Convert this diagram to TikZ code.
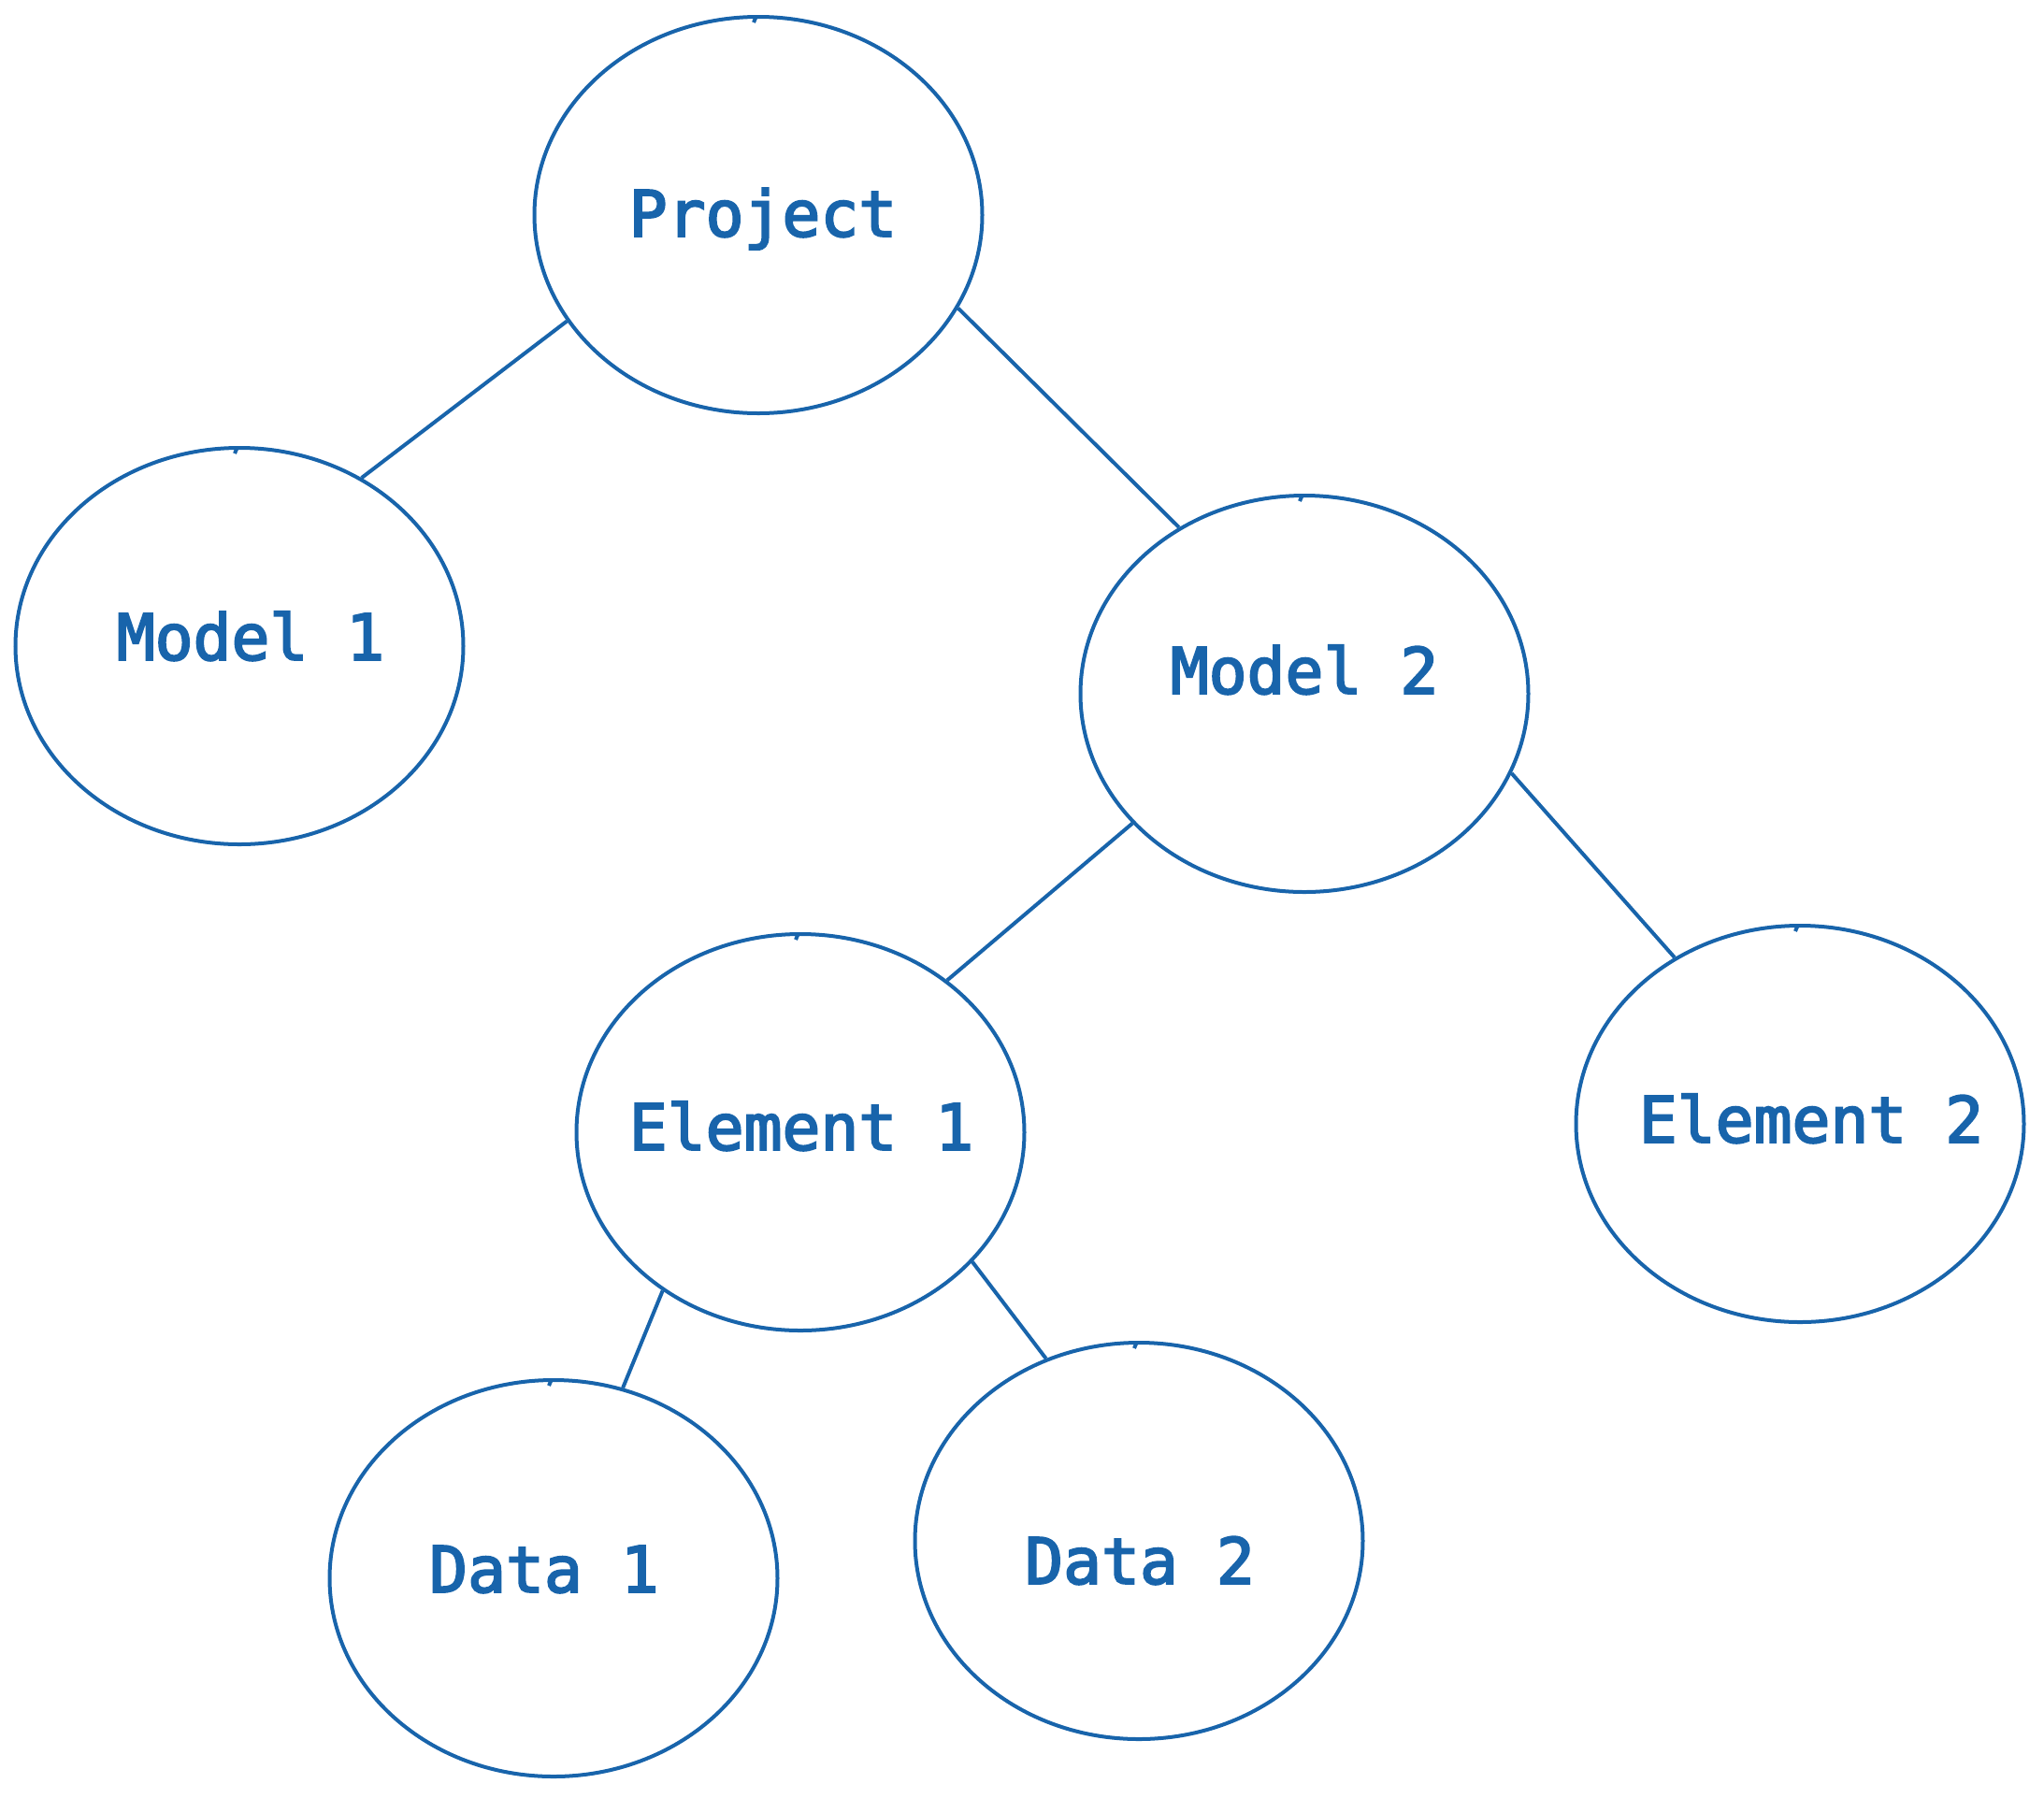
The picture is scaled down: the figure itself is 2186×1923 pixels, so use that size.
\documentclass[tikz,border=0pt]{standalone}
\usepackage{fontspec}
\newfontfamily\labelfont[FakeBold=3]{DejaVu Sans Mono}
\usetikzlibrary{shapes.geometric}
\definecolor{inkblue}{HTML}{1864AB}

\begin{document}
\begin{tikzpicture}[x=0.5pt,y=-0.5pt, line width=2pt,
    bubble/.style={ellipse, draw=inkblue, minimum width=239.5pt, minimum height=212pt,
      inner sep=0pt},
    lbl/.style={text=inkblue, inner sep=0pt, text height=24.8pt, text depth=0pt,
      font=\labelfont\fontsize{34}{40}\selectfont},
    edge/.style={draw=inkblue}]
    \useasboundingbox (0,0) rectangle (2186,1923);
    % tree nodes
    \node[bubble, label={[lbl,xshift=2.5pt,yshift=1pt]center:Project}] (proj) at (811,230) {};
    \node[bubble, label={[lbl,xshift=6pt,yshift=5pt]center:Model 1}] (mod1) at (256,691) {};
    \node[bubble, label={[lbl,yshift=12.5pt]center:Model 2}] (mod2) at (1395,742) {};
    \node[bubble, label={[lbl,xshift=0.5pt,yshift=3pt]center:Element 1}] (elem1) at (856,1211) {};
    \node[bubble, label={[lbl,xshift=6pt,yshift=2.5pt]center:Element 2}] (elem2) at (1925,1202) {};
    \node[bubble, label={[lbl,xshift=-5pt,yshift=5pt]center:Data 1}] (dat1) at (592,1688) {};
    \node[bubble, label={[lbl,xshift=0.5pt,yshift=-10.5pt]center:Data 2}] (dat2) at (1218,1648) {};
    % small pen marks on top
    \foreach \n in {proj,mod1,mod2,elem1,elem2,dat1,dat2}
      \draw[inkblue] (\n.north) ++(-2,1) -- ++(-3,7);
    % branches
    \draw[edge] (proj.209) -- (mod1.54);
    \draw[edge] (proj.335) -- (mod2.127);
    \draw[edge] (mod2.217) -- (elem1.46);
    \draw[edge] (mod2.339) -- (elem2.127);
    \draw[edge] (elem1.229) -- (dat1.70);
    \draw[edge] (elem1.323) -- (dat2.117);
\end{tikzpicture}
\end{document}
